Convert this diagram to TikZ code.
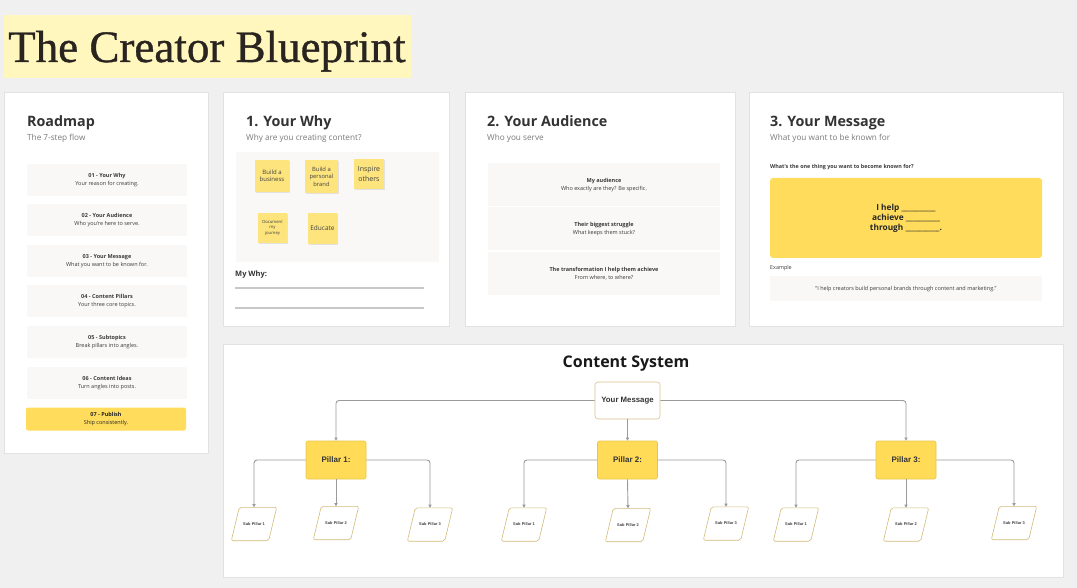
\documentclass[tikz,border=0pt]{standalone}
\usepackage{fontspec}
\setmainfont{Open Sans}
\newfontfamily\titlefont[FakeBold=0.8]{Liberation Serif}
\newfontfamily\arialfont{Liberation Sans}
\usetikzlibrary{arrows.meta,shadows}
\definecolor{bg}{HTML}{F0F0F0}
\definecolor{panelborder}{HTML}{E2E2E2}
\definecolor{titlebg}{HTML}{FFF7BE}
\definecolor{titletext}{HTML}{2A2420}
\definecolor{heading}{HTML}{333333}
\definecolor{subtext}{HTML}{7A7A7A}
\definecolor{bodytext}{HTML}{3A3A3A}
\definecolor{yellowbox}{HTML}{FFDC5C}
\definecolor{pillarfill}{HTML}{FFDB58}
\definecolor{pillarborder}{HTML}{E8C547}
\definecolor{stickyfill}{HTML}{FDE47D}
\definecolor{softfill}{HTML}{FAF8F6}
\definecolor{conncolor}{HTML}{9A9A9A}
\definecolor{subborder}{HTML}{D2BC78}
\definecolor{msgborder}{HTML}{D8C38A}
\definecolor{lineclr}{HTML}{C8C8C8}
\newcommand{\myblank}{\_\_\_\_\_\_\_\_\_\_}
\tikzset{
  panel/.style={draw=panelborder, line width=0.8pt, fill=white, anchor=north west, inner sep=0pt},
  headingtext/.style={font=\bfseries\fontsize{14.3}{17}\selectfont, text=heading, anchor=base west, inner sep=0pt},
  subtitletext/.style={font=\fontsize{8.2}{10}\selectfont, text=subtext, anchor=base west, inner sep=0pt},
  roaditem/.style={fill=softfill, rounded corners=2pt, minimum width=160, minimum height=32, align=center, inner sep=0pt, text=bodytext, font=\fontsize{5.5}{8}\selectfont},
  roadlast/.style={roaditem, fill=yellowbox, minimum height=23, text=black!85},
  sticky/.style={fill=stickyfill, align=center, inner sep=1pt, text=black!75, drop shadow={shadow xshift=0.6pt, shadow yshift=-0.8pt, opacity=0.18}},
  auditem/.style={fill=softfill, minimum width=232, minimum height=43, align=center, inner sep=0pt, text=bodytext, font=\fontsize{5.5}{8}\selectfont},
  pillar/.style={fill=pillarfill, draw=pillarborder, line width=0.6pt, rounded corners=2pt, minimum width=60, minimum height=38, font=\arialfont\bfseries\fontsize{8}{10}\selectfont, text=black!80},
  msgbox/.style={fill=white, draw=msgborder, line width=0.6pt, rounded corners=3pt, minimum width=65, minimum height=37, font=\arialfont\bfseries\fontsize{7.8}{10}\selectfont, text=black!80},
  subpillar/.style={minimum width=37, minimum height=33, inner sep=0pt, font=\arialfont\bfseries\fontsize{4}{5}\selectfont, text=black!75},
  subshape/.style={draw=subborder, line width=0.6pt, rounded corners=2pt},
  conn/.style={draw=conncolor, line width=0.9pt, rounded corners=3pt, -{Triangle[length=3.2pt,width=3.2pt]}},
  writeline/.style={draw=lineclr, line width=1.3pt}
}
\begin{document}
\begin{tikzpicture}[x=1pt,y=-1pt]
\useasboundingbox[fill=bg] (0,0) rectangle (1077,588);

% Title
\node[fill=titlebg, minimum width=407, minimum height=63, anchor=north west, inner sep=0pt] (titlebox) at (4,15) {};
\node[font=\titlefont\fontsize{45}{45}\selectfont, text=titletext, anchor=base west, inner sep=0pt] (title) at (8,62) {The Creator Blueprint};

% Roadmap panel
\node[panel, minimum width=204, minimum height=361] (roadmap) at (4,92) {};
\node[headingtext] (roadhead) at (27,127) {Roadmap};
\node[subtitletext] (roadsub) at (27,141) {The 7-step flow};
\node[roaditem] (r1) at (107,180) {\textbf{01 - Your Why}\\Your reason for creating.};
\node[roaditem] (r2) at (107,220) {\textbf{02 - Your Audience}\\Who you're here to serve.};
\node[roaditem] (r3) at (107,261) {\textbf{03 - Your Message}\\What you want to be known for.};
\node[roaditem] (r4) at (107,301) {\textbf{04 - Content Pillars}\\Your three core topics.};
\node[roaditem] (r5) at (107,342) {\textbf{05 - Subtopics}\\Break pillars into angles.};
\node[roaditem] (r6) at (107,383) {\textbf{06 - Content Ideas}\\Turn angles into posts.};
\node[roadlast] (r7) at (106,419) {\textbf{07 - Publish}\\Ship consistently.};

% Your Why panel
\node[panel, minimum width=226, minimum height=234] (why) at (223,92) {};
\node[headingtext] (whyhead) at (246,127) {1. Your Why};
\node[subtitletext] (whysub) at (246,141) {Why are you creating content?};
\node[fill=softfill, minimum width=203, minimum height=110, anchor=north west, inner sep=0pt] (whyarea) at (236,152) {};
\node[sticky, minimum width=34, minimum height=32, font=\fontsize{6}{7.5}\selectfont] (st1) at (272,176) {Build a\\business};
\node[sticky, minimum width=33, minimum height=33, font=\fontsize{5.8}{7.5}\selectfont] (st2) at (321.5,176.5) {Build a\\personal\\brand};
\node[sticky, minimum width=30, minimum height=30, font=\fontsize{7}{9.5}\selectfont] (st3) at (369,174) {Inspire\\others};
\node[sticky, minimum width=29, minimum height=30, font=\fontsize{4.2}{5.2}\selectfont] (st4) at (272.5,228) {Document\\my\\journey};
\node[sticky, minimum width=29, minimum height=31, font=\fontsize{6.5}{8}\selectfont] (st5) at (322.5,228.5) {Educate};
\node[font=\bfseries\fontsize{7.5}{9}\selectfont, text=heading, anchor=base west, inner sep=0pt] (mywhy) at (235,277) {My Why:};
\draw[writeline] (235,288) -- (424,288);
\draw[writeline] (235,308) -- (424,308);

% Your Audience panel
\node[panel, minimum width=270, minimum height=234] (aud) at (465,92) {};
\node[headingtext] (audhead) at (487,127) {2. Your Audience};
\node[subtitletext] (audsub) at (487,141) {Who you serve};
\node[auditem] (a1) at (604,185) {\textbf{My audience}\\Who exactly are they? Be specific.};
\node[auditem] (a2) at (604,229) {\textbf{Their biggest struggle}\\What keeps them stuck?};
\node[auditem] (a3) at (604,274) {\textbf{The transformation I help them achieve}\\From where, to where?};

% Your Message panel
\node[panel, minimum width=314, minimum height=234] (mes) at (749,92) {};
\node[headingtext] (meshead) at (770,127) {3. Your Message};
\node[subtitletext] (messub) at (770,141) {What you want to be known for};
\node[font=\bfseries\fontsize{5.4}{7}\selectfont, text=bodytext, anchor=base west, inner sep=0pt] (mesq) at (770,169) {What's the one thing you want to become known for?};
\node[fill=yellowbox, rounded corners=3pt, minimum width=272, minimum height=80, inner sep=0pt, align=center, font=\bfseries\fontsize{8.3}{10}\selectfont, text=black!85] (mesbox) at (906,218) {I help \myblank\\achieve \myblank\\through \myblank.};
\node[font=\fontsize{5.4}{7}\selectfont, text=bodytext, anchor=base west, inner sep=0pt] (exlabel) at (770,270) {Example};
\node[fill=softfill, minimum width=272, minimum height=25, inner sep=0pt, font=\fontsize{5.5}{7}\selectfont, text=bodytext] (exbox) at (906,289) {``I help creators build personal brands through content and marketing.''};

% Content System panel
\node[panel, minimum width=840, minimum height=233] (cs) at (223,344) {};
\node[font=\bfseries\fontsize{16}{19}\selectfont, text=black!90, inner sep=0pt] (cshead) at (626,364) {Content System};
\node[msgbox] (msg) at (627.5,400.5) {Your Message};
\node[pillar] (p1) at (336,460) {Pillar 1:};
\node[pillar] (p2) at (627.5,460) {Pillar 2:};
\node[pillar] (p3) at (906,460) {Pillar 3:};

\node[subpillar] (s11) at (254,524) {Sub Pillar 1};
\node[subpillar] (s12) at (336,523) {Sub Pillar 2};
\node[subpillar] (s13) at (430,524.5) {Sub Pillar 3};
\node[subpillar] (s21) at (524,524.5) {Sub Pillar 1};
\node[subpillar] (s22) at (628,525) {Sub Pillar 2};
\node[subpillar] (s23) at (726,523.5) {Sub Pillar 3};
\node[subpillar] (s31) at (796,524.5) {Sub Pillar 1};
\node[subpillar] (s32) at (906,524.5) {Sub Pillar 2};
\node[subpillar] (s33) at (1014,523) {Sub Pillar 3};

\foreach \n in {s11,s12,s13,s21,s22,s23,s31,s32,s33}{
  \draw[subshape] ([xshift=-4pt]\n.south west) -- ([xshift=4pt]\n.north west) -- ([xshift=4pt]\n.north east) -- ([xshift=-4pt]\n.south east) -- cycle;
}

\draw[conn] (msg.west) -| (p1.north);
\draw[conn] (msg.south) -- (p2.north);
\draw[conn] (msg.east) -| (p3.north);

\draw[conn] (p1.west) -| (s11.north);
\draw[conn] (p1.south) -- (s12.north);
\draw[conn] (p1.east) -| (s13.north);
\draw[conn] (p2.west) -| (s21.north);
\draw[conn] (p2.south) -- (s22.north);
\draw[conn] (p2.east) -| (s23.north);
\draw[conn] (p3.west) -| (s31.north);
\draw[conn] (p3.south) -- (s32.north);
\draw[conn] (p3.east) -| (s33.north);
\end{tikzpicture}
\end{document}
